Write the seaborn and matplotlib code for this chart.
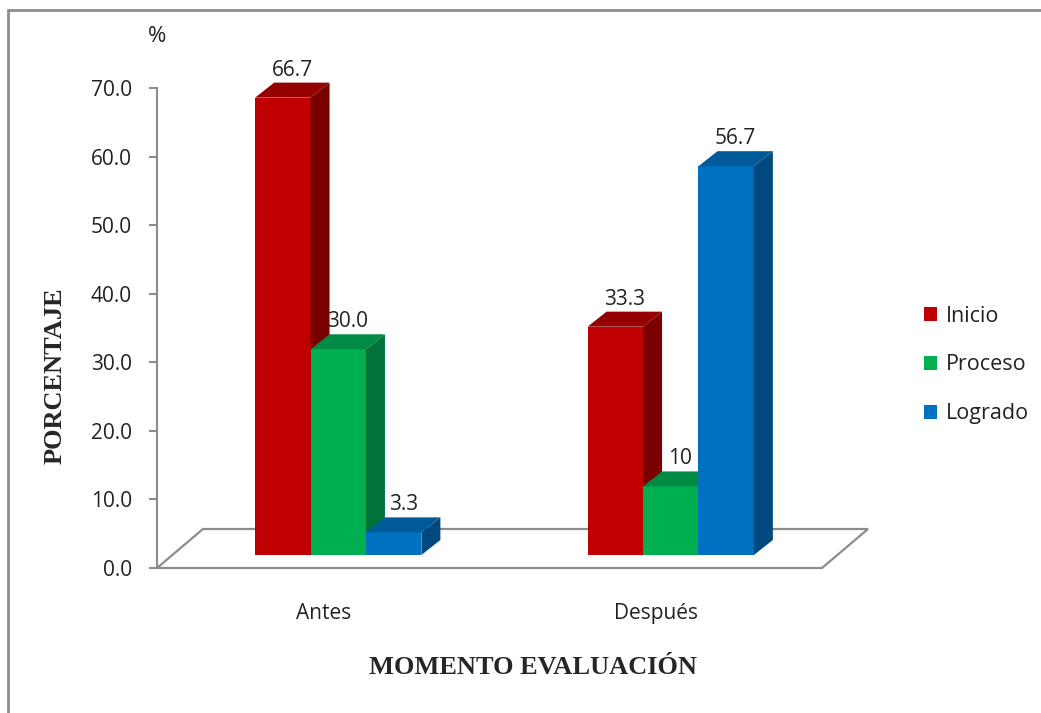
import pandas as pd
import matplotlib.pyplot as plt
import seaborn as sns
from matplotlib.patches import Polygon, Patch, Rectangle
from matplotlib.transforms import Affine2D, IdentityTransform

# data
momentos = ["Antes", "Después"]
niveles = ["Inicio", "Proceso", "Logrado"]
inicio = [66.7, 33.3]
proceso = [30.0, 10.0]
logrado = [3.3, 56.7]
etiquetas = {"Inicio": ["66.7", "33.3"], "Proceso": ["30.0", "10"], "Logrado": ["3.3", "56.7"]}
y_ticks = [0, 10, 20, 30, 40, 50, 60, 70]

# colours: front, side, top
frente = {"Inicio": "#C00000", "Proceso": "#00B050", "Logrado": "#0070C0"}
lado = {"Inicio": "#7A0000", "Proceso": "#00723A", "Logrado": "#00497F"}
techo = {"Inicio": "#950000", "Proceso": "#008A44", "Logrado": "#005A9A"}

df = pd.DataFrame({
    "momento": momentos * 3,
    "nivel": [n for n in niveles for _ in momentos],
    "porcentaje": inicio + proceso + logrado,
})

sns.set_style("white")
plt.rcParams["font.family"] = ["Open Sans", "DejaVu Sans"]

W, H = 1041, 713
fig = plt.figure(figsize=(W / 100, H / 100), dpi=100)
ax = fig.add_axes([157 / W, (H - 568) / H, 665 / W, 480 / H])

sns.barplot(data=df, x="momento", y="porcentaje", hue="nivel", order=momentos,
            hue_order=niveles, palette=frente, saturation=1, width=0.5,
            linewidth=0, legend=False, ax=ax)

ax.set_xlim(-0.5, 1.5)
ax.set_ylim(0, 70)
ax.set_yticks(y_ticks)
ax.set_yticklabels([f"{t:.1f}" for t in y_ticks])
ax.tick_params(axis="y", length=6, width=1.5, color="#8C8C8C", pad=12,
               labelsize=15, labelcolor="#222222", left=True)
ax.tick_params(axis="x", length=0, pad=25, labelsize=15, labelcolor="#222222")
for s in ["top", "right", "bottom"]:
    ax.spines[s].set_visible(False)
ax.spines["left"].set_color("#8C8C8C")
ax.spines["left"].set_linewidth(1.5)
ax.set_xlabel("")
ax.set_ylabel("")

# 3D look: floor, shifted fronts, sides and tops (all in pixels)
fx, fy = 46, 39      # floor depth
sx, sy = 15, 13      # front face shift onto the floor
dx, dy = 19, 15      # bar depth

p0 = ax.transData.transform((-0.5, 0))
p1 = ax.transData.transform((1.5, 0))
piso = Polygon([p0, p1, (p1[0] + fx, p1[1] + fy), (p0[0] + fx, p0[1] + fy)],
               closed=True, facecolor="white", edgecolor="#8C8C8C", lw=1.6,
               transform=IdentityTransform(), clip_on=False, zorder=1)
ax.add_patch(piso)

shift = Affine2D().translate(sx, sy)
for i, (nivel, cont) in enumerate(zip(niveles, ax.containers)):
    for j, bar in enumerate(cont.patches):
        bx, bw, bh = bar.get_x(), bar.get_width(), bar.get_height()
        bar.set_transform(ax.transData + shift)
        bar.set_zorder(2 + i)
        bar.set_clip_on(False)
        x0, y0 = ax.transData.transform((bx, 0)) + (sx, sy)
        x1, y1 = ax.transData.transform((bx + bw, bh)) + (sx, sy)
        side = Polygon([(x1, y0), (x1 + dx, y0 + dy), (x1 + dx, y1 + dy), (x1, y1)],
                       facecolor=lado[nivel], lw=0, transform=IdentityTransform(),
                       clip_on=False, zorder=2.5 + i)
        top = Polygon([(x0, y1), (x1, y1), (x1 + dx, y1 + dy), (x0 + dx, y1 + dy)],
                      facecolor=techo[nivel], lw=0, transform=IdentityTransform(),
                      clip_on=False, zorder=2.5 + i)
        ax.add_patch(side)
        ax.add_patch(top)
        ax.annotate(etiquetas[nivel][j], xy=(bx + bw / 2, bh),
                    xytext=(sx + dx / 2, sy + dy + 2), textcoords="offset pixels",
                    ha="center", va="bottom", fontsize=15, color="#222222",
                    zorder=10, annotation_clip=False)

# axis titles
fig.text(157 / W, 1 - 37 / H, "%", ha="center", va="center", fontsize=16, color="#222222")
fig.text(55 / W, 1 - 376 / H, "PORCENTAJE", rotation=90, ha="center", va="center",
         fontsize=19, fontweight="bold", family="Liberation Serif")
fig.text(533 / W, 1 - 668 / H, "MOMENTO EVALUACIÓN", ha="center", va="center",
         fontsize=19, fontweight="bold", family="Liberation Serif")

# legend
handles = [Patch(facecolor=frente[n], edgecolor="none") for n in niveles]
fig.legend(handles, niveles, loc="center left", bbox_to_anchor=(905 / W, 1 - 365 / H),
           frameon=False, fontsize=15.5, labelspacing=1.3, handlelength=0.6,
           handleheight=0.6, handletextpad=0.4, labelcolor="#222222")

# outer frame
fig.patches.append(Rectangle((8 / W, -0.05), 1.1, (H - 10) / H + 0.05,
                             transform=fig.transFigure, fill=False,
                             edgecolor="#8C8C8C", lw=2))

fig.savefig("out.png", dpi=100)
